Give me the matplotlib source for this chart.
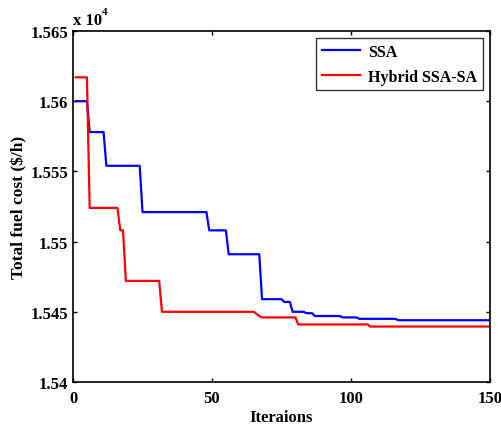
import matplotlib
matplotlib.use("Agg")
import matplotlib.pyplot as plt
from matplotlib.ticker import FuncFormatter

# Data (iteration, total fuel cost in $/h) — step vertices
ssa_iter = [1, 5, 6, 11, 12, 24, 25, 48, 49, 55, 56, 67, 68, 75, 76, 78, 79,
            83, 84, 86, 87, 96, 97, 102, 103, 116, 117, 150]
ssa_cost = [15600, 15600, 15578, 15578, 15554, 15554, 15521, 15521, 15508, 15508,
            15491, 15491, 15459, 15459, 15457, 15457, 15450, 15450, 15449, 15449,
            15447, 15447, 15446, 15446, 15445, 15445, 15444, 15444]

hyb_iter = [1, 5, 6, 16, 17, 18, 19, 31, 32, 65, 67, 68, 80, 81, 106, 107, 150]
hyb_cost = [15617, 15617, 15524, 15524, 15508, 15508, 15472, 15472, 15450, 15450,
            15447, 15446, 15446, 15441, 15441, 15439.5, 15439.5]

series_names = ["SSA", "Hybrid SSA-SA"]
y_ticks = [15400, 15450, 15500, 15550, 15600, 15650]
x_ticks = [0, 50, 100, 150]

plt.rcParams['font.family'] = ['Liberation Serif', 'DejaVu Serif']
plt.rcParams['font.weight'] = 'bold'

fig = plt.figure(figsize=(5.01, 4.27), dpi=100)
ax = fig.add_axes([73/501, 1-383/427, (490-73)/501, (383-32)/427])

ax.plot(ssa_iter, ssa_cost, color='#0000ff', lw=1.6, label=series_names[0])
ax.plot(hyb_iter, hyb_cost, color='#ff0000', lw=1.6, label=series_names[1])

ax.set_xlim(0, 150)
ax.set_ylim(15400, 15650)
ax.set_xticks(x_ticks)
ax.set_yticks(y_ticks)
ax.yaxis.set_major_formatter(FuncFormatter(lambda v, p: ('%g' % (v / 1e4))))
ax.tick_params(direction='in', top=True, right=True, length=3, width=1,
               labelsize=12)
ax.tick_params(axis='x', pad=6)
ax.tick_params(axis='y', pad=3.5)
for lab in ax.get_xticklabels() + ax.get_yticklabels():
    lab.set_fontweight('bold')
for s in ax.spines.values():
    s.set_linewidth(1.2)

ax.set_xlabel("Iteraions", fontsize=12, fontweight='bold', labelpad=2)
ax.set_ylabel(r"Total fuel cost (\$/h)", fontsize=12.5, fontweight='bold', labelpad=2)

fig.text(73/501, 1-25/427, "x 10", fontsize=12, fontweight='bold', va='baseline', ha='left')
fig.text(102/501, 1-15/427, "4", fontsize=8, fontweight='bold', va='baseline', ha='left')

leg = ax.legend(loc='upper right', frameon=True, fancybox=False,
                edgecolor='black', borderpad=0.35, labelspacing=0.55,
                handlelength=2.4, handletextpad=0.5, borderaxespad=0.45,
                prop={'weight': 'bold', 'size': 11.5})
leg.get_frame().set_linewidth(1.0)

fig.savefig("out.png", dpi=100)
